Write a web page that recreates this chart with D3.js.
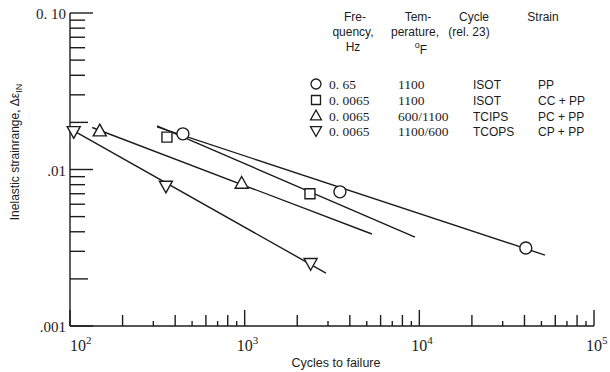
<!DOCTYPE html>
<html>
<head>
<meta charset="utf-8">
<script src="https://cdn.jsdelivr.net/npm/d3@7/dist/d3.min.js"></script>
<style>
  html, body { margin: 0; padding: 0; background: #fff; }
  svg { display: block; }
  .serif { font-family: "Liberation Serif", "DejaVu Serif", serif; }
  .sans { font-family: "Liberation Sans", "DejaVu Sans", sans-serif; }
</style>
</head>
<body>
<svg id="chart" width="610" height="372"></svg>
<script>
// ---- Data ----------------------------------------------------------------
const xDecades = [100, 1000, 10000, 100000];
const xDecadeExponents = ["2", "3", "4", "5"];
const yDecades = [0.1, 0.01, 0.001];
const yDecadeLabels = ["0. 10", ".01", ".001"];

// Test points: cycles to failure and inelastic strainrange
const ppCycles = [443, 3510, 40700];
const ppStrain = [0.0169, 0.0072, 0.00315];
const ccCycles = [359, 2365];
const ccStrain = [0.0161, 0.0070];
const pcCycles = [148, 961];
const pcStrain = [0.0177, 0.0082];
const cpCycles = [105, 354, 2386];
const cpStrain = [0.0174, 0.0078, 0.0025];

// Fitted life lines (end points)
const ppLineCycles = [315, 52400];
const ppLineStrain = [0.0187, 0.00284];
const ccLineCycles = [315, 9440];
const ccLineStrain = [0.0190, 0.00370];
const pcLineCycles = [134, 5350];
const pcLineStrain = [0.01855, 0.00387];
const cpLineCycles = [101, 2920];
const cpLineStrain = [0.0181, 0.00218];

// Legend table
const legendFrequency = ["0. 65", "0. 0065", "0. 0065", "0. 0065"];
const legendTemperature = ["1100", "1100", "600/1100", "1100/600"];
const legendCycle = ["ISOT", "ISOT", "TCIPS", "TCOPS"];
const legendStrain = ["PP", "CC + PP", "PC + PP", "CP + PP"];

// ---- Setup ---------------------------------------------------------------
const ink = "#1c1c1c";
const svg = d3.select("#chart");

const x = d3.scaleLog().domain([100, 100000]).range([70, 594]);
const y = d3.scaleLog().domain([0.001, 0.1]).range([326, 13]);

function circlePath(r) {
  return `M${r},0A${r},${r},0,1,1,${-r},0A${r},${r},0,1,1,${r},0Z`;
}
const shapes = {
  circle: s => circlePath(s * 0.5),
  square: s => `M${-s/2},${-s/2}h${s}v${s}h${-s}Z`,
  up: s => `M0,${-s*0.5}L${s*0.5},${s*0.4}L${-s*0.5},${s*0.4}Z`,
  down: s => `M0,${s*0.5}L${s*0.5},${-s*0.4}L${-s*0.5},${-s*0.4}Z`
};
const series = [
  { cycles: ppCycles, strain: ppStrain, lc: ppLineCycles, ls: ppLineStrain, shape: shapes.circle },
  { cycles: ccCycles, strain: ccStrain, lc: ccLineCycles, ls: ccLineStrain, shape: shapes.square },
  { cycles: pcCycles, strain: pcStrain, lc: pcLineCycles, ls: pcLineStrain, shape: shapes.up },
  { cycles: cpCycles, strain: cpStrain, lc: cpLineCycles, ls: cpLineStrain, shape: shapes.down }
];
const markerSize = [12, 10, 13, 13];
const legendSize = [10, 9, 11, 11];

// ---- Axes ----------------------------------------------------------------
function minorTicks(decades, keep) {
  const out = [];
  decades.slice(0, -1).forEach(d => {
    for (let m = 2; m <= 9; m++) if (keep(m)) out.push(d * m);
  });
  return out;
}
const sw = 1.4;

// axis lines
svg.append("line").attr("x1", x(100)).attr("x2", x(100)).attr("y1", y(0.1)).attr("y2", y(0.001))
  .attr("stroke", ink).attr("stroke-width", sw);
svg.append("line").attr("x1", x(100)).attr("x2", x(100000)).attr("y1", y(0.001)).attr("y2", y(0.001))
  .attr("stroke", ink).attr("stroke-width", sw);

// y ticks point inward (to the right)
const yTicks = [
  ...yDecades.map(v => ({ v, len: 23 })),
  ...minorTicks([0.001, 0.01, 0.1], m => m === 2).map(v => ({ v, len: 18 })),
  ...minorTicks([0.001, 0.01, 0.1], m => m > 2).map(v => ({ v, len: 15 }))
];
svg.append("g").selectAll("line").data(yTicks).join("line")
  .attr("x1", x(100)).attr("x2", d => x(100) + d.len)
  .attr("y1", d => y(d.v)).attr("y2", d => y(d.v))
  .attr("stroke", ink).attr("stroke-width", sw);

// x ticks point upward
const xTicks = [
  ...xDecades.map(v => ({ v, len: 16 })),
  ...minorTicks(xDecades, m => m % 2 === 0).map(v => ({ v, len: 11 })),
  ...minorTicks(xDecades, m => m % 2 === 1).map(v => ({ v, len: 5 }))
];
svg.append("g").selectAll("line").data(xTicks).join("line")
  .attr("x1", d => x(d.v)).attr("x2", d => x(d.v))
  .attr("y1", y(0.001)).attr("y2", d => y(0.001) - d.len)
  .attr("stroke", ink).attr("stroke-width", sw);

// y decade labels
svg.append("g").selectAll("text").data(yDecades).join("text")
  .attr("class", "serif")
  .attr("x", 66).attr("y", d => y(d) + 6)
  .attr("text-anchor", "end")
  .attr("font-size", 15).attr("fill", ink)
  .text((d, i) => yDecadeLabels[i]);

// x decade labels: 10 with superscript exponent
const xl = svg.append("g").selectAll("text").data(xDecades).join("text")
  .attr("class", "serif")
  .attr("x", (d, i) => x(d) - 8 + (i === 0 ? 8 : 0))
  .attr("y", 351)
  .attr("font-size", 16).attr("fill", ink);
xl.append("tspan").text("10");
xl.append("tspan").attr("dy", -7).attr("font-size", 11).text((d, i) => xDecadeExponents[i]);

// axis titles
svg.append("text").attr("class", "sans")
  .attr("x", 336).attr("y", 367).attr("text-anchor", "middle")
  .attr("font-size", 12.5).attr("fill", ink)
  .text("Cycles to failure");

const yt = svg.append("text").attr("class", "sans")
  .attr("transform", "translate(19,152) rotate(-90)")
  .attr("text-anchor", "middle")
  .attr("font-size", 12).attr("fill", ink);
yt.append("tspan").text("Inelastic strainrange, \u0394\u03b5");
yt.append("tspan").attr("dy", 3).attr("font-size", 9).text("IN");

// ---- Lines and markers ---------------------------------------------------
const line = d3.line().x(d => x(d[0])).y(d => y(d[1]));
series.forEach(s => {
  svg.append("path")
    .datum(d3.zip(s.lc, s.ls))
    .attr("d", line)
    .attr("fill", "none").attr("stroke", ink).attr("stroke-width", sw);
});
series.forEach((s, i) => {
  svg.append("g").selectAll("path").data(d3.zip(s.cycles, s.strain)).join("path")
    .attr("transform", d => `translate(${x(d[0])},${y(d[1])})`)
    .attr("d", s.shape(markerSize[i]))
    .attr("fill", "#fff").attr("stroke", ink).attr("stroke-width", sw);
});

// ---- Legend table --------------------------------------------------------
const header = svg.append("g").attr("class", "sans").attr("fill", ink).attr("font-size", 12)
  .attr("text-anchor", "middle");
[["Fre-", 355, 21], ["quency,", 353, 36], ["Hz", 353, 51],
 ["Tem-", 418, 21], ["perature,", 415, 36],
 ["Cycle", 474, 21], ["(rel. 23)", 469, 36],
 ["Strain", 543, 21]].forEach(([t, hx, hy]) => {
  header.append("text").attr("x", hx).attr("y", hy).text(t);
});
const degF = header.append("text").attr("x", 421).attr("y", 54);
degF.append("tspan").attr("font-size", 9).attr("dy", -6).text("o");
degF.append("tspan").attr("dy", 6).text("F");

const rowY = [84, 100, 115.5, 131];
const rows = svg.append("g");
series.forEach((s, i) => {
  rows.append("path")
    .attr("transform", `translate(316,${rowY[i]})`)
    .attr("d", s.shape(legendSize[i]))
    .attr("fill", "#fff").attr("stroke", ink).attr("stroke-width", 1.3);
});
rows.selectAll("text.f").data(legendFrequency).join("text").attr("class", "serif f")
  .attr("x", 329).attr("y", (d, i) => rowY[i] + 5).attr("font-size", 13.5).attr("fill", ink).text(d => d);
rows.selectAll("text.t").data(legendTemperature).join("text").attr("class", "serif t")
  .attr("x", 398).attr("y", (d, i) => rowY[i] + 5).attr("font-size", 13.5).attr("fill", ink).text(d => d);
rows.selectAll("text.c").data(legendCycle).join("text").attr("class", "sans c")
  .attr("x", 473).attr("y", (d, i) => rowY[i] + 5).attr("font-size", 12).attr("fill", ink).text(d => d);
rows.selectAll("text.s").data(legendStrain).join("text").attr("class", "sans s")
  .attr("x", 538).attr("y", (d, i) => rowY[i] + 5).attr("font-size", 12).attr("fill", ink).text(d => d);
</script>
</body>
</html>
